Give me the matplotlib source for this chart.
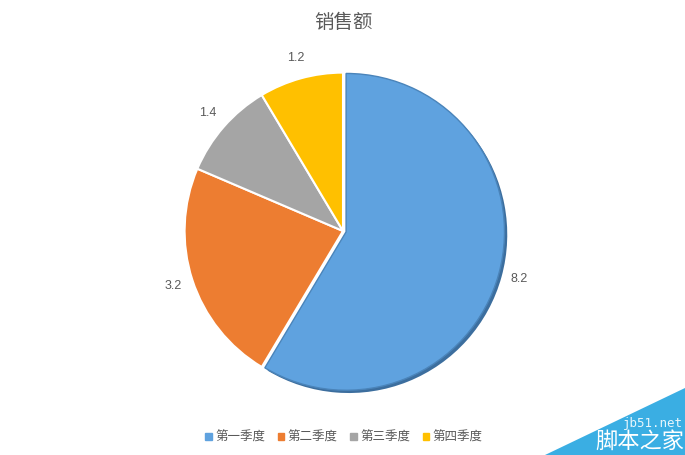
import matplotlib.pyplot as plt
import matplotlib.patheffects as pe
from matplotlib.patches import Polygon

plt.rcParams['font.family'] = ['Noto Sans CJK SC', 'DejaVu Sans']

quarters = ["第一季度", "第二季度", "第三季度", "第四季度"]
sales = [8.2, 3.2, 1.4, 1.2]
value_labels = ["8.2", "3.2", "1.4", "1.2"]
colors = ["#5FA2DF", "#ED7D31", "#A5A5A5", "#FFC000"]

fig = plt.figure(figsize=(6.85, 4.55), dpi=100)
ax = fig.add_axes([0, 0, 1, 1])

wedges, texts = ax.pie(
    sales,
    colors=colors,
    labels=value_labels,
    labeldistance=1.13,
    startangle=90,
    counterclock=False,
    explode=[0.02, 0, 0, 0],
    radius=0.99,
    wedgeprops=dict(edgecolor="white", linewidth=1.5),
    textprops=dict(color="#595959", fontsize=9, ha="center", va="center",
                   family="Liberation Sans"),
)
# pie resets the limits, so place it afterwards: centre at (343, 231) px, r = 160 px
ax.set_xlim(-343 / 160, (685 - 343) / 160)
ax.set_ylim(-(455 - 231) / 160, 231 / 160)
ax.axis("off")

# shaded rim on the first slice
wedges[0].set_path_effects([
    pe.SimplePatchShadow(offset=(2, -2), shadow_rgbFace="#3C6E9E", alpha=1.0),
    pe.Normal(),
])
wedges[0].set_edgecolor("#4A84BA")
wedges[0].set_linewidth(1.0)

fig.text(343 / 685, 1 - 22 / 455, "销售额", ha="center", va="center",
         fontsize=14, color="#595959")

handles = [plt.Rectangle((0, 0), 1, 1, color=c) for c in colors]
fig.legend(handles, quarters, loc="center", ncol=4,
           bbox_to_anchor=(344 / 685, 1 - 437 / 455), frameon=False,
           fontsize=9, labelcolor="#595959", handlelength=0.5,
           handleheight=0.5, handletextpad=0.3, columnspacing=1.0)

# watermark corner
tri = Polygon([[545 / 685, 0], [1, 0], [1, 1 - 388 / 455]], closed=True,
              transform=fig.transFigure, facecolor="#3AAEE3", edgecolor="none")
fig.patches.append(tri)
fig.text(683 / 685, 1 - 423 / 455, "jb51.net", ha="right", va="center",
         fontsize=9, color="#E8F6FC", family="DejaVu Sans Mono")
fig.text(684 / 685, 1 - 441 / 455, "脚本之家", ha="right", va="center",
         fontsize=16, color="white")

fig.savefig("out.png", dpi=100)
